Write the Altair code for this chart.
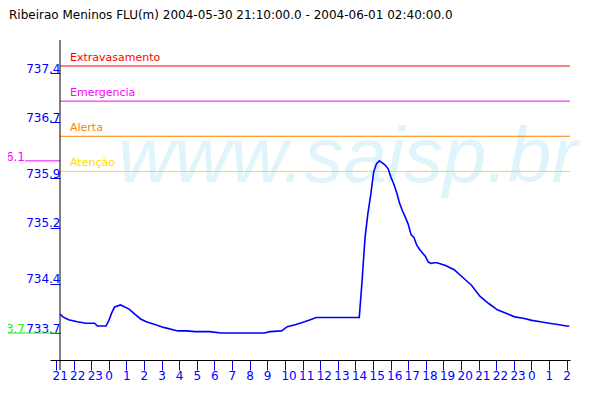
import altair as alt
import pandas as pd

title_text = "Ribeirao Meninos FLU(m) 2004-05-30 21:10:00.0 - 2004-06-01 02:40:00.0"
watermark = "www.saisp.br"

times = [
    "2004-05-30 21:10", "2004-05-30 21:20", "2004-05-30 21:40", "2004-05-30 22:10",
    "2004-05-30 22:40", "2004-05-30 23:10", "2004-05-30 23:20", "2004-05-30 23:50",
    "2004-05-31 00:00", "2004-05-31 00:10", "2004-05-31 00:20", "2004-05-31 00:40",
    "2004-05-31 00:50", "2004-05-31 01:10", "2004-05-31 01:30", "2004-05-31 01:50",
    "2004-05-31 02:10", "2004-05-31 02:40", "2004-05-31 03:10", "2004-05-31 04:00",
    "2004-05-31 04:30", "2004-05-31 05:00", "2004-05-31 05:50", "2004-05-31 06:30",
    "2004-05-31 07:40", "2004-05-31 08:30", "2004-05-31 09:00", "2004-05-31 09:20",
    "2004-05-31 10:00", "2004-05-31 10:20", "2004-05-31 10:50", "2004-05-31 11:20",
    "2004-05-31 11:40", "2004-05-31 12:00", "2004-05-31 12:40", "2004-05-31 13:20",
    "2004-05-31 14:30", "2004-05-31 14:40", "2004-05-31 14:50", "2004-05-31 15:00",
    "2004-05-31 15:10", "2004-05-31 15:20", "2004-05-31 15:30", "2004-05-31 15:40",
    "2004-05-31 15:50", "2004-05-31 16:00", "2004-05-31 16:10", "2004-05-31 16:20",
    "2004-05-31 16:30", "2004-05-31 16:40", "2004-05-31 16:50", "2004-05-31 17:00",
    "2004-05-31 17:10", "2004-05-31 17:20", "2004-05-31 17:30", "2004-05-31 17:40",
    "2004-05-31 17:50", "2004-05-31 18:00", "2004-05-31 18:10", "2004-05-31 18:20",
    "2004-05-31 18:30", "2004-05-31 18:40", "2004-05-31 18:50", "2004-05-31 19:00",
    "2004-05-31 19:30", "2004-05-31 20:00", "2004-05-31 20:30", "2004-05-31 21:00",
    "2004-05-31 21:30", "2004-05-31 22:00", "2004-05-31 22:30", "2004-05-31 23:00",
    "2004-05-31 23:30", "2004-06-01 00:00", "2004-06-01 00:30", "2004-06-01 01:00",
    "2004-06-01 01:30", "2004-06-01 02:00", "2004-06-01 02:30", "2004-06-01 02:40",
]
levels = [
    733.97, 733.93, 733.89, 733.86,
    733.84, 733.84, 733.80, 733.80,
    733.88, 733.99, 734.07, 734.10,
    734.08, 734.04, 733.97, 733.90,
    733.86, 733.82, 733.78, 733.73,
    733.73, 733.72, 733.72, 733.70,
    733.70, 733.70, 733.70, 733.72,
    733.73, 733.79, 733.82, 733.86,
    733.89, 733.92, 733.92, 733.92,
    733.92, 734.45, 735.05, 735.40,
    735.67, 735.99, 736.11, 736.15,
    736.12, 736.09, 736.04, 735.92,
    735.82, 735.70, 735.55, 735.44,
    735.35, 735.25, 735.10, 735.06,
    734.95, 734.89, 734.84, 734.79,
    734.71, 734.69, 734.70, 734.70,
    734.66, 734.60, 734.49, 734.38,
    734.22, 734.12, 734.03, 733.98,
    733.93, 733.91, 733.88, 733.86,
    733.84, 733.82, 733.80, 733.80,
]

threshold_names = ["Extravasamento", "Emergencia", "Alerta", "Atenção"]
threshold_values = [737.5, 737.0, 736.5, 736.0]
threshold_colors = ["#ff0000", "#ff00ff", "#ff8000", "#ffdd00"]

y_ticks = [733.7, 734.4, 735.2, 735.9, 736.7, 737.4]
# hours counted from 2004-05-30 00:00 (21h of May 30 ... 2h of June 1)
x_tick_hours = [21, 22, 23, 24, 25, 26, 27, 28, 29, 30, 31, 32, 33, 34, 35,
                36, 37, 38, 39, 40, 41, 42, 43, 44, 45, 46, 47, 48, 49, 50]

max_value, max_label = 736.15, "736.1"
min_value, min_label = 733.7, "733.7"

FONT = "DejaVu Sans"
BLUE = "#0000ff"

t0 = pd.Timestamp("2004-05-30 00:00")
series = pd.DataFrame({
    "h": (pd.to_datetime(times) - t0) / pd.Timedelta(hours=1),
    "v": levels,
})
thr = pd.DataFrame({"name": threshold_names, "v": threshold_values})
ticks_df = pd.DataFrame({"h": x_tick_hours})
max_df = pd.DataFrame({"v": [max_value], "lab": [max_label]})
min_df = pd.DataFrame({"v": [min_value], "lab": [min_label]})
wm_df = pd.DataFrame({"t": [watermark]})
title_df = pd.DataFrame({"t": [title_text]})

yscale = alt.Scale(domain=[733.316, 737.87], nice=False, zero=False)
yaxis = alt.Axis(
    values=y_ticks, format=".1f", orient="left", offset=-10,
    domain=False, grid=False, tickSize=10, tickColor=BLUE, tickWidth=1,
    labelColor=BLUE, labelFont=FONT, labelFontSize=12, labelAlign="right",
    labelBaseline="alphabetic", labelPadding=-10, labelOffset=-1,
    labelOverlap=False, title=None,
)
y_enc = alt.Y("v:Q", scale=yscale, axis=yaxis)
color_scale = alt.Scale(domain=threshold_names, range=threshold_colors)

wm = alt.Chart(wm_df).mark_text(
    font="Liberation Sans", fontStyle="italic", fontSize=78, color="#e0f4fc",
    align="left", baseline="alphabetic",
).encode(text="t:N", x=alt.value(68), y=alt.value(142))

axis_layer = alt.Chart(ticks_df).mark_point(opacity=0).encode(
    x=alt.X("h:Q",
            scale=alt.Scale(domain=[20.659, 50.187], nice=False, zero=False),
            axis=alt.Axis(values=x_tick_hours, labelExpr="datum.value % 24",
                          domainColor="#000000", domainWidth=1, grid=False,
                          tickSize=10, tickColor=BLUE, tickWidth=1,
                          labelColor=BLUE, labelFont=FONT, labelFontSize=12,
                          labelAlign="left", labelOffset=-4, labelPadding=0,
                          labelBaseline="top", labelOverlap=False,
                          labelFlush=False, title=None)),
)

thr_rules = alt.Chart(thr).mark_rule(strokeWidth=1).encode(
    y=y_enc, x=alt.value(10), x2=alt.value(520),
    color=alt.Color("name:N", scale=color_scale, legend=None),
)
thr_text = alt.Chart(thr).mark_text(
    align="left", baseline="alphabetic", dy=-5, font=FONT, fontSize=11,
).encode(
    y=y_enc, x=alt.value(20), text="name:N",
    color=alt.Color("name:N", scale=color_scale, legend=None),
)

line = alt.Chart(series).mark_line(color=BLUE, strokeWidth=1.6).encode(
    x=alt.X("h:Q",
            scale=alt.Scale(domain=[20.5875, 50.7075], nice=False, zero=False),
            axis=None),
    y=y_enc,
)

max_rule = alt.Chart(max_df).mark_rule(color="#ff00ff").encode(
    y=y_enc, x=alt.value(-25), x2=alt.value(10))
max_text = alt.Chart(max_df).mark_text(
    color="#ff00ff", align="right", baseline="alphabetic", font=FONT, fontSize=12,
).encode(y=y_enc, x=alt.value(-25), text="lab:N")
min_rule = alt.Chart(min_df).mark_rule(color="#22ee22").encode(
    y=y_enc, x=alt.value(-50), x2=alt.value(10))
min_text = alt.Chart(min_df).mark_text(
    color="#22ee22", align="right", baseline="alphabetic", font=FONT, fontSize=12,
).encode(y=y_enc, x=alt.value(-25), text="lab:N")

y_line = alt.Chart(title_df).mark_rule(color="#000000").encode(
    x=alt.value(10), y=alt.value(0), y2=alt.value(330))

title = alt.Chart(title_df).mark_text(
    align="left", baseline="alphabetic", font=FONT, fontSize=12, color="#000000",
).encode(text="t:N", x=alt.value(-41), y=alt.value(-21))

chart = alt.layer(
    wm, axis_layer, thr_rules, thr_text, min_rule, min_text, max_rule,
    max_text, y_line, line, title,
).resolve_scale(x="independent").properties(
    width=520, height=320,
    autosize=alt.AutoSizeParams(type="none"),
    padding={"left": 42, "top": 32, "right": 22, "bottom": 30},
    background="#ffffff",
).configure_view(stroke=None)

chart.save("out.html", embed_options={"renderer": "svg", "actions": False})
